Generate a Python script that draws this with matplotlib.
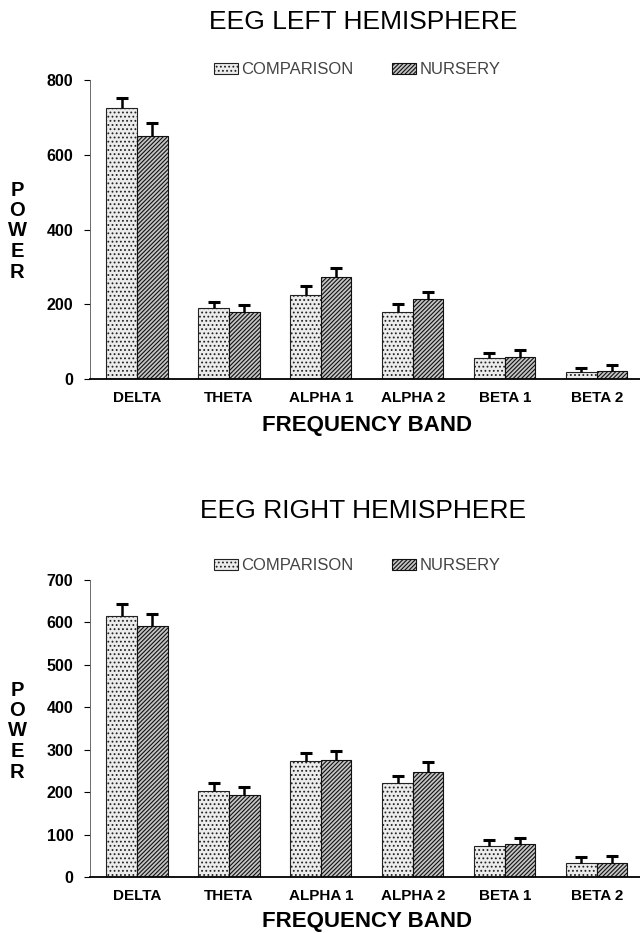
import matplotlib.pyplot as plt
import numpy as np

plt.rcParams['font.family'] = ['Liberation Sans', 'DejaVu Sans']
plt.rcParams['hatch.linewidth'] = 0.8

bands = ['DELTA', 'THETA', 'ALPHA 1', 'ALPHA 2', 'BETA 1', 'BETA 2']

left_comparison = [725, 189, 226, 179, 57, 19]
left_comparison_err = [27, 18, 23, 21, 12, 11]
left_nursery = [651, 179, 273, 214, 59, 22]
left_nursery_err = [33, 19, 23, 20, 19, 16]

right_comparison = [615, 202, 273, 221, 72, 33]
right_comparison_err = [29, 20, 19, 17, 15, 13]
right_nursery = [591, 193, 276, 247, 78, 34]
right_nursery_err = [30, 20, 20, 23, 14, 15]

W, H = 640, 933


def draw_panel(ax, comp, comp_err, nurs, nurs_err, ymax, step):
    x = np.arange(len(bands))
    w = 0.333
    ax.bar(x - w / 2, comp, w, color='#ececec', edgecolor='#222222',
           linewidth=0.8, hatch='....', label='COMPARISON')
    ax.bar(x + w / 2, nurs, w, color='#c4c4c4', edgecolor='#111111',
           linewidth=0.8, hatch='////////', label='NURSERY')
    # upper error bars only: stem from bar top, cap at the end
    for xs, vals, errs in [(x - w / 2, comp, comp_err), (x + w / 2, nurs, nurs_err)]:
        tops = np.array(vals) + np.array(errs)
        ax.vlines(xs, vals, tops, color='black', linewidth=1.8)
        ax.plot(xs, tops, linestyle='none', marker='_', markersize=9,
                markeredgewidth=2.2, color='black')

    ax.set_xlim(-0.51, 5.47)
    ax.set_ylim(0, ymax)
    ax.set_yticks(np.arange(0, ymax + 1, step))
    ax.set_xticks(x)
    ax.set_xticklabels(bands, fontsize=11, fontweight='bold')
    ax.tick_params(axis='x', length=0, pad=9)
    ax.tick_params(axis='y', length=4, width=0.8, labelsize=11.5, pad=8)
    for lab in ax.get_yticklabels():
        lab.set_fontweight('bold')
    ax.spines['top'].set_visible(False)
    ax.spines['right'].set_visible(False)
    ax.spines['left'].set_linewidth(0.6)
    ax.spines['left'].set_color('#555555')
    ax.spines['bottom'].set_linewidth(1.3)
    return ax.get_legend_handles_labels()


fig = plt.figure(figsize=(W / 100, H / 100), dpi=100)
ax1 = fig.add_axes([90 / W, 1 - 379 / H, 550 / W, 299 / H])
ax2 = fig.add_axes([90 / W, 1 - 877 / H, 550 / W, 297 / H])

panels = [
    (ax1, 'EEG LEFT HEMISPHERE', left_comparison, left_comparison_err,
     left_nursery, left_nursery_err, 800, 200, 0),
    (ax2, 'EEG RIGHT HEMISPHERE', right_comparison, right_comparison_err,
     right_nursery, right_nursery_err, 700, 100, 500),
]

for ax, title, c, ce, n, ne, ymax, step, dy in panels:
    handles, labels = draw_panel(ax, c, ce, n, ne, ymax, step)
    title_y = 22 if dy == 0 else 511
    legend_y = 70 if dy == 0 else 566
    xlabel_y = 425 if dy == 0 else 921
    ylabel_y = 231 if dy == 0 else 731
    fig.text(363 / W, 1 - title_y / H, title, fontsize=19, ha='center', va='center')
    leg = fig.legend(handles, labels, loc='center', bbox_to_anchor=(357 / W, 1 - legend_y / H),
                     ncol=2, frameon=False, fontsize=12, handlelength=1.45,
                     handleheight=0.65, handletextpad=0.2, columnspacing=2.3)
    for t in leg.get_texts():
        t.set_color('#444444')
    fig.text(367 / W, 1 - xlabel_y / H, 'FREQUENCY BAND', fontsize=16,
             fontweight='bold', ha='center', va='center')
    fig.text(17 / W, 1 - ylabel_y / H, 'P\nO\nW\nE\nR', fontsize=14.5,
             fontweight='bold', ha='center', va='center', linespacing=1.1)

fig.savefig('out.png', dpi=100)
